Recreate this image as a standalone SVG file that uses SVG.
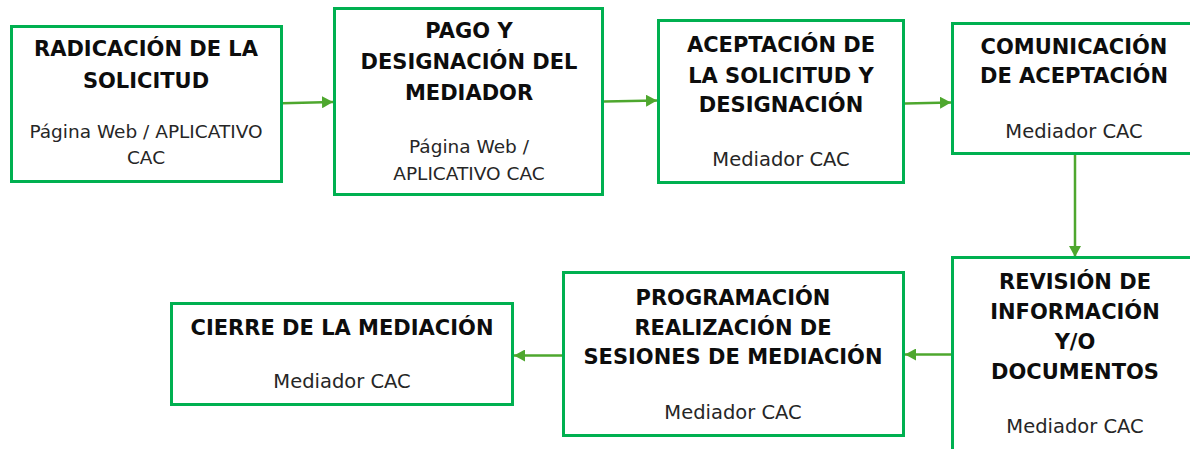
<svg xmlns="http://www.w3.org/2000/svg" width="1190" height="449" viewBox="0 0 1190 449">
<style>
.box{fill:#ffffff;stroke:#00B050;stroke-width:3}
.t{font-family:"DejaVu Sans","Liberation Sans",sans-serif;font-weight:700;font-size:21px;text-anchor:middle;fill:#0d0d0d}
.s{font-family:"DejaVu Sans","Liberation Sans",sans-serif;font-weight:400;font-size:18.5px;text-anchor:middle;fill:#262626}
.m{font-size:19.5px}
.c{stroke:#4EA72E;stroke-width:2.5;fill:none;marker-end:url(#ah)}
</style>
<defs>
<marker id="ah" markerUnits="userSpaceOnUse" markerWidth="12" markerHeight="12" refX="11" refY="6" orient="auto">
<path d="M0,0 L11,6 L0,12 Z" fill="#4EA72E"/>
</marker>
</defs>
<rect width="1190" height="449" fill="#ffffff"/>
<g id="connectors">
<line class="c" x1="282" y1="103.3" x2="333" y2="102"/>
<line class="c" x1="604" y1="101.5" x2="657" y2="100.5"/>
<line class="c" x1="905" y1="103.5" x2="951" y2="102.5"/>
<line class="c" x1="1075" y1="155" x2="1075" y2="257"/>
<line class="c" x1="951" y1="354.5" x2="905" y2="354.5"/>
<line class="c" x1="562" y1="355.5" x2="514" y2="355.5"/>
</g>
<g id="n1">
<rect class="box" x="11.5" y="26.5" width="270" height="155"/>
<text class="t" x="146" y="56">RADICACIÓN DE LA</text>
<text class="t" x="146" y="88">SOLICITUD</text>
<text class="s" x="146" y="138">Página Web / APLICATIVO</text>
<text class="s" x="146" y="164">CAC</text>
</g>
<g id="n2">
<rect class="box" x="334.5" y="8.5" width="268" height="186"/>
<text class="t" x="469" y="38">PAGO Y</text>
<text class="t" x="469" y="68.5">DESIGNACIÓN DEL</text>
<text class="t" x="469" y="99.5">MEDIADOR</text>
<text class="s" x="469" y="153">Página Web /</text>
<text class="s" x="469" y="180">APLICATIVO CAC</text>
</g>
<g id="n3">
<rect class="box" x="658.5" y="20.5" width="245" height="162"/>
<text class="t" x="781" y="52">ACEPTACIÓN DE</text>
<text class="t" x="781" y="83">LA SOLICITUD Y</text>
<text class="t" x="781" y="112">DESIGNACIÓN</text>
<text class="s m" x="781" y="166">Mediador CAC</text>
</g>
<g id="n4">
<rect class="box" x="952.5" y="23.5" width="246" height="130"/>
<text class="t" x="1074" y="54">COMUNICACIÓN</text>
<text class="t" x="1074" y="83">DE ACEPTACIÓN</text>
<text class="s m" x="1074" y="138">Mediador CAC</text>
</g>
<g id="n5">
<rect class="box" x="952.5" y="257.5" width="246" height="210"/>
<text class="t" x="1075" y="289">REVISIÓN DE</text>
<text class="t" x="1075" y="319">INFORMACIÓN</text>
<text class="t" x="1075" y="349">Y/O</text>
<text class="t" x="1075" y="379">DOCUMENTOS</text>
<text class="s m" x="1075" y="433">Mediador CAC</text>
</g>
<g id="n6">
<rect class="box" x="563.5" y="272.5" width="340" height="163"/>
<text class="t" x="733" y="305">PROGRAMACIÓN</text>
<text class="t" x="733" y="335">REALIZACIÓN DE</text>
<text class="t" x="733" y="364">SESIONES DE MEDIACIÓN</text>
<text class="s m" x="733" y="419">Mediador CAC</text>
</g>
<g id="n7">
<rect class="box" x="171.5" y="303.5" width="341" height="101"/>
<text class="t" x="342" y="335">CIERRE DE LA MEDIACIÓN</text>
<text class="s m" x="342" y="388">Mediador CAC</text>
</g>
</svg>
